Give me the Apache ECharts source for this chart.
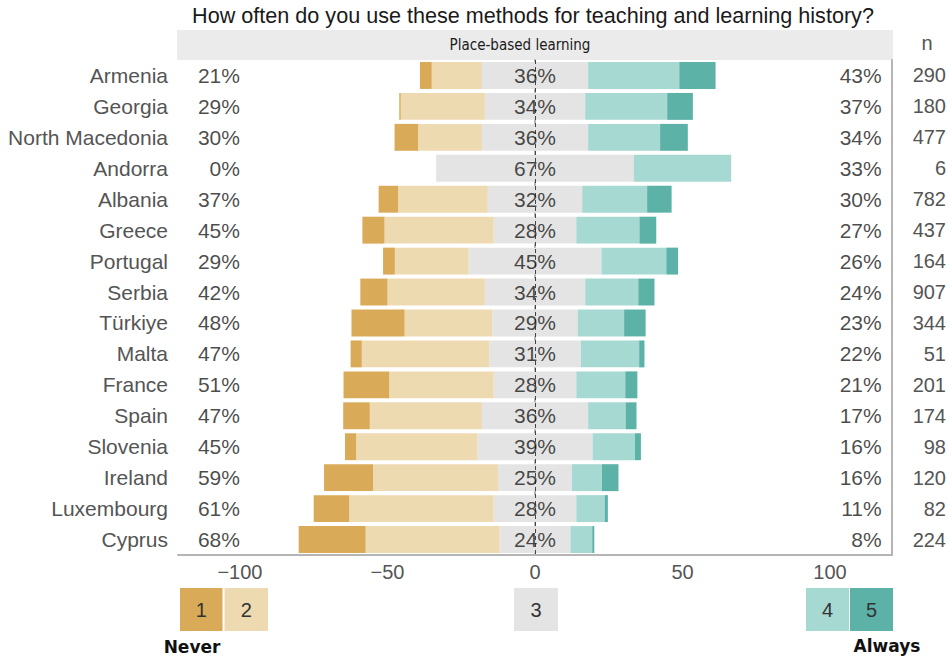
<!DOCTYPE html>
<html>
<head>
<meta charset="utf-8">
<script src="https://cdn.jsdelivr.net/npm/echarts@6/dist/echarts.min.js"></script>
<style>
html,body{margin:0;padding:0;background:#fff;}
#chart{width:949px;height:657px;}
</style>
</head>
<body>
<div id="chart"></div>
<script>
// ---- data ----
const categories = ['Armenia','Georgia','North Macedonia','Andorra','Albania','Greece','Portugal','Serbia','Türkiye','Malta','France','Spain','Slovenia','Ireland','Luxembourg','Cyprus'];
const level1 = [4, 0.5, 8, 0, 6.6, 7.5, 4, 9.2, 18, 3.8, 15.5, 9, 3.8, 16.6, 12, 22.7];
const level2 = [17, 28.5, 21.6, 0, 30.4, 37, 25, 33, 29.7, 43.2, 35.4, 38, 41.1, 42.4, 49, 45.4];
const level3 = [36, 34, 36, 67, 32, 28, 45, 34, 29, 31, 28, 36, 39, 25, 28, 24];
const level4 = [30.9, 27.8, 24.4, 33, 22, 21.4, 22, 18, 15.7, 19.8, 16.6, 12.7, 14.4, 10.2, 9.6, 7.4];
const level5 = [12.3, 8.7, 9.4, 0, 8.3, 5.7, 4, 5.5, 7.3, 1.8, 4.1, 3.7, 2, 5.6, 1.1, 0.7];
const leftPct = ['21%','29%','30%','0%','37%','45%','29%','42%','48%','47%','51%','47%','45%','59%','61%','68%'];
const midPct = ['36%','34%','36%','67%','32%','28%','45%','34%','29%','31%','28%','36%','39%','25%','28%','24%'];
const rightPct = ['43%','37%','34%','33%','30%','27%','26%','24%','23%','22%','21%','17%','16%','16%','11%','8%'];
const nResp = ['290','180','477','6','782','437','164','907','344','51','201','174','98','120','82','224'];
const xTicks = [-100, -50, 0, 50, 100];
const legendLabels = ['1','2','3','4','5'];
const titleText = 'How often do you use these methods for teaching and learning history?';
const stripText = 'Place-based learning';

// ---- styling ----
const C1 = '#D9AB58', C2 = '#EDDAB0', C3 = '#E4E4E4', C4 = '#A7D9D3', C5 = '#5CB2A7';
const FONT = "'Liberation Sans', Arial, sans-serif";
const GRID = {left: 178, right: 56, top: 60, bottom: 102};

const chart = echarts.init(document.getElementById('chart'), null, {renderer: 'svg'});

function barSeries(name, values, color, sign) {
  return {
    name: name, type: 'bar', stack: 'total', silent: true,
    barWidth: '87%',
    itemStyle: {color: color},
    data: values.map(v => sign * v)
  };
}
function labelSeries(xv, texts, align) {
  return {
    type: 'scatter', silent: true, symbolSize: 1,
    itemStyle: {color: 'rgba(0,0,0,0)'},
    z: 5,
    label: {
      show: true, position: 'inside', align: align, verticalAlign: 'middle',
      fontFamily: FONT, fontSize: 21, color: '#1a1a1a',
      formatter: p => texts[p.dataIndex]
    },
    data: categories.map((c, i) => [xv, i])
  };
}

const midSeries = labelSeries(0, midPct, 'center');
midSeries.markLine = {
  silent: true, symbol: 'none', label: {show: false},
  lineStyle: {type: [4, 3], color: '#444', width: 1},
  data: [{xAxis: 0}]
};

const legendGraphics = [];
const boxes = [
  {x: 180, w: 42.5, c: C1, t: legendLabels[0]},
  {x: 224.5, w: 43.5, c: C2, t: legendLabels[1]},
  {x: 514, w: 44, c: C3, t: legendLabels[2]},
  {x: 806, w: 43, c: C4, t: legendLabels[3]},
  {x: 850, w: 43, c: C5, t: legendLabels[4]}
];
boxes.forEach(b => {
  legendGraphics.push({
    type: 'rect', shape: {x: b.x, y: 588, width: b.w, height: 43}, style: {fill: b.c}, silent: true
  });
  legendGraphics.push({
    type: 'text', x: b.x + b.w / 2, y: 610,
    style: {text: b.t, fill: '#333', font: "20px 'Liberation Sans', Arial, sans-serif", textAlign: 'center', textVerticalAlign: 'middle'}
  });
});

const option = {
  animation: false,
  backgroundColor: '#fff',
  grid: GRID,
  xAxis: {
    type: 'value', min: -121, max: 121,
    axisLine: {show: true, lineStyle: {color: '#b5b5b5', width: 2}},
    axisTick: {show: false},
    splitLine: {show: false},
    axisLabel: {
      customValues: xTicks,
      fontFamily: FONT, fontSize: 20, color: '#555', margin: 7,
      formatter: v => (v < 0 ? '\u2212' + Math.abs(v) : String(v))
    }
  },
  yAxis: [
    {
      type: 'category', data: categories, inverse: true,
      axisLine: {show: true, lineStyle: {color: '#b5b5b5', width: 2}},
      axisTick: {show: false},
      axisLabel: {fontFamily: FONT, fontSize: 21, color: '#555', margin: 10}
    },
    {
      type: 'category', data: nResp, inverse: true, position: 'right',
      axisLine: {show: true, lineStyle: {color: '#b5b5b5', width: 2}},
      axisTick: {show: false},
      axisLabel: {fontFamily: FONT, fontSize: 20, color: '#555', margin: 54, align: 'right'}
    }
  ],
  series: [
    barSeries('3', level3.map(v => v / 2), C3, -1),
    barSeries('2', level2, C2, -1),
    barSeries('1', level1, C1, -1),
    barSeries('3 ', level3.map(v => v / 2), C3, 1),
    barSeries('4', level4, C4, 1),
    barSeries('5', level5, C5, 1),
    labelSeries(-100, leftPct, 'right'),
    midSeries,
    labelSeries(117.5, rightPct, 'right')
  ],
  graphic: [
    {type: 'text', x: 533, y: 15, style: {text: titleText, fill: '#1a1a1a', font: "21.6px 'Liberation Sans', Arial, sans-serif", textAlign: 'center', textVerticalAlign: 'middle'}},
    {type: 'rect', shape: {x: 177, y: 30, width: 716, height: 30}, style: {fill: '#ebebeb'}, silent: true},
    {type: 'text', x: 520, y: 45, style: {text: stripText, fill: '#1a1a1a', font: "15px 'Liberation Sans Narrow', 'DejaVu Sans Condensed', Roboto, sans-serif", textAlign: 'center', textVerticalAlign: 'middle'}},
    {type: 'text', x: 927, y: 43, style: {text: 'n', fill: '#555', font: "20px 'Liberation Sans', Arial, sans-serif", textAlign: 'center', textVerticalAlign: 'middle'}},
    {type: 'text', x: 192, y: 647, style: {text: 'Never', fill: '#111', font: "bold 17px 'DejaVu Sans', sans-serif", textAlign: 'center', textVerticalAlign: 'middle'}},
    {type: 'text', x: 887, y: 646, style: {text: 'Always', fill: '#111', font: "bold 17px 'DejaVu Sans', sans-serif", textAlign: 'center', textVerticalAlign: 'middle'}}
  ].concat(legendGraphics)
};
chart.setOption(option);
</script>
</body>
</html>
